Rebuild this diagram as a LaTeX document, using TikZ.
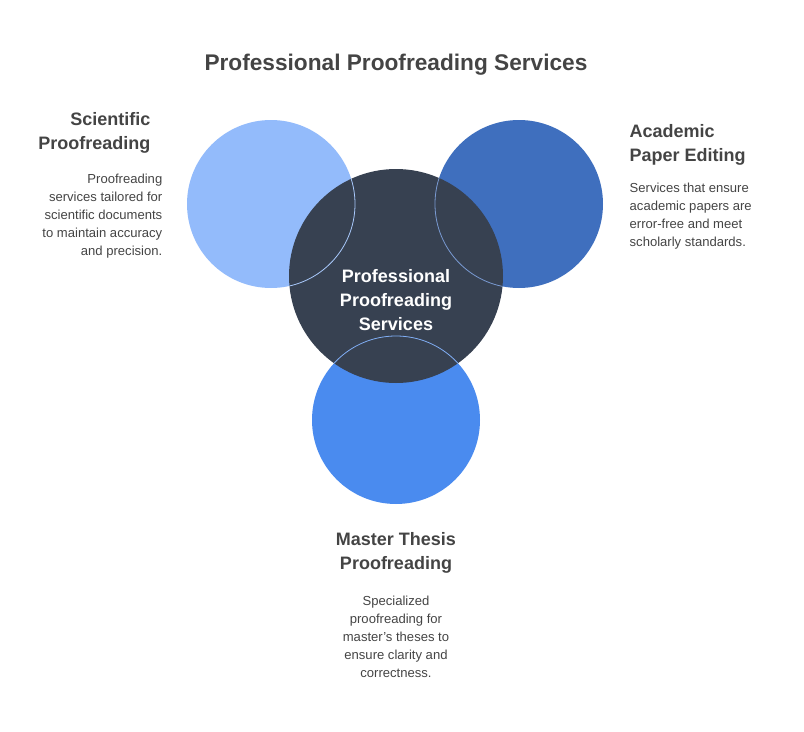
\documentclass[tikz,border=0pt]{standalone}
\usepackage{fontspec}
\setmainfont{Liberation Sans}
\definecolor{ttl}{HTML}{444444}
\definecolor{lb}{HTML}{93BBFB}
\definecolor{db}{HTML}{3F6FBE}
\definecolor{mb}{HTML}{4A8BEF}
\definecolor{dk}{HTML}{374151}
\begin{document}
\begin{tikzpicture}[x=0.75pt,y=-0.75pt,
 head/.style={font=\fontsize{13.5}{18}\selectfont\bfseries,text=ttl},
 body/.style={font=\fontsize{9.8}{13.5}\selectfont,text=ttl}]
\useasboundingbox (0,0) rectangle (804,732);
\fill[lb] (271,204) circle (84);
\fill[db] (519,204) circle (84);
\fill[mb] (396,420) circle (84);
\fill[dk] (396,276) circle (107);
\begin{scope}
\clip (396,276) circle (107);
\draw[lb!80!white,line width=0.6pt] (271,204) circle (84);
\draw[db!70!white,line width=0.6pt] (519,204) circle (84);
\draw[mb!70!white,line width=0.6pt] (396,420) circle (84);
\end{scope}
\node[font=\fontsize{13.5}{18}\selectfont\bfseries,text=white,align=center] (c) at (396,300) {Professional\\Proofreading\\Services};
\node[font=\fontsize{17}{20}\selectfont\bfseries,text=ttl] (t) at (396,65) {Professional Proofreading Services};
\node[head,align=right,anchor=north east] (lh) at (155,108) {Scientific\\Proofreading};
\node[body,align=right,anchor=north east] (lb) at (167,169) {Proofreading\\services tailored for\\scientific documents\\to maintain accuracy\\and precision.};
\node[head,align=left,anchor=north west] (rh) at (625,120) {Academic\\Paper Editing};
\node[body,align=left,anchor=north west] (rb) at (625,178) {Services that ensure\\academic papers are\\error-free and meet\\scholarly standards.};
\node[head,align=center,anchor=north] (bh) at (396,528) {Master Thesis\\Proofreading};
\node[body,align=center,anchor=north] (bb) at (396,591) {Specialized\\proofreading for\\master's theses to\\ensure clarity and\\correctness.};
\end{tikzpicture}
\end{document}
